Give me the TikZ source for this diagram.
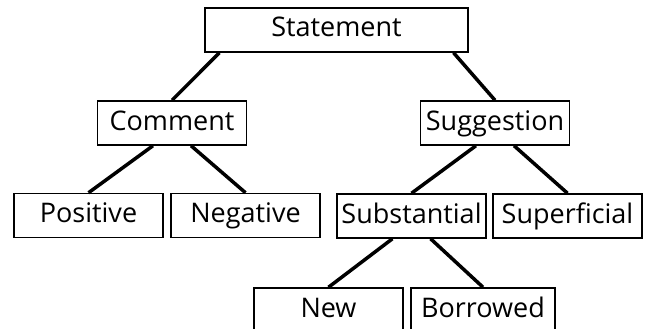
\documentclass[tikz,border=0pt]{standalone}
\usepackage{fontspec}
\setmainfont{Open Sans}
\usetikzlibrary{calc}

\begin{document}
\begin{tikzpicture}[x=1pt, y=1pt,
  box/.style={draw, line width=1.5pt, minimum width=149pt, minimum height=44pt,
    inner sep=0pt, text height=19pt, text depth=5pt,
    font=\fontsize{27}{29}\selectfont},
  link/.style={line width=3.5pt}]

% Area del disegno
\useasboundingbox (0,0) rectangle (645,-329);

% Radice
\node[box, minimum width=263pt] (statement) at (336.5,-30) {Statement};

% Primo livello
\node[box] (comment) at (172,-123) {Comment};
\node[box] (suggestion) at (495,-123) {Suggestion};

% Secondo livello
\node[box] (positive) at (88.5,-215.5) {Positive};
\node[box] (negative) at (245.5,-215.5) {Negative};
\node[box] (substantial) at (411.5,-216) {Substantial};
\node[box] (superficial) at (567.5,-216) {Superficial};

% Terzo livello
\node[box] (new) at (328.5,-310) {New};
\node[box, minimum width=144pt] (borrowed) at (483,-310) {Borrowed};

% Collegamenti
\draw[link] (statement.191) -- (comment.north);
\draw[link] (statement.349) -- (suggestion.north);
\draw[link] (comment.230) -- (positive.north);
\draw[link] (comment.310) -- (negative.north);
\draw[link] (suggestion.230) -- (substantial.north);
\draw[link] (suggestion.310) -- (superficial.north);
\draw[link] (substantial.230) -- (new.north);
\draw[link] (substantial.310) -- (borrowed.north);

\end{tikzpicture}
\end{document}
